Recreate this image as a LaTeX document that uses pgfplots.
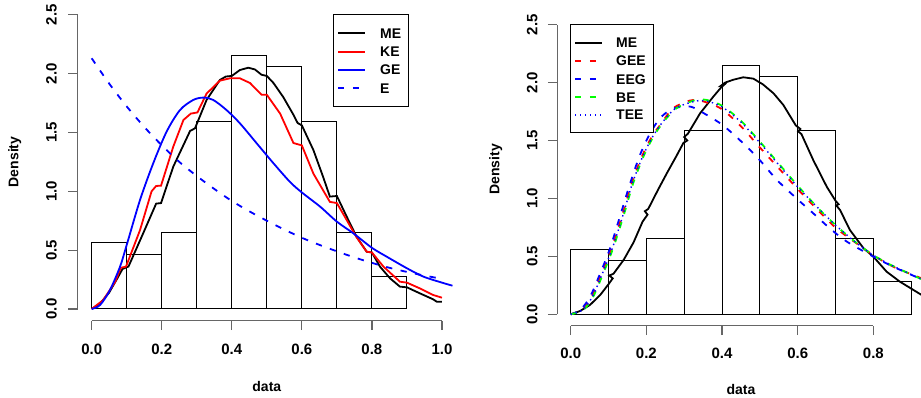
\documentclass[border=0pt]{standalone}
\usepackage{pgfplots}
\pgfplotsset{compat=1.18}
\usepackage{fontspec}
\setmainfont{Liberation Sans}
\newcommand\lblfont{\bfseries\fontsize{14}{16}\selectfont}
\newcommand\tckfont{\bfseries\fontsize{15}{17}\selectfont}
\definecolor{rred}{RGB}{255,0,0}
\definecolor{rblue}{RGB}{0,0,255}
\definecolor{rgreen}{RGB}{0,255,0}
\tikzset{
  cv/.style={line width=1.8pt},
  dsh/.style={dash pattern=on 6.3pt off 8.5pt},
  dtt/.style={line width=1.4pt, dash pattern=on 1.4pt off 3.6pt},
  lgtxt/.style={anchor=base west, inner sep=0pt, font=\lblfont},
}
\pgfplotsset{
  rstyle/.style={
    scale only axis, anchor=south west,
    axis lines*=left, axis line style={draw=none},
    tick align=outside, major tick length=9.3pt,
    tick style={black!60, line width=1.2pt},
    ymin=-0.1, ymax=2.6,
    ytick={0,0.5,1,1.5,2,2.5}, yticklabels={0.0,0.5,1.0,1.5,2.0,2.5},
    tick label style={font=\tckfont},
    clip mode=individual,
    xlabel={data}, ylabel={Density},
  },
  hist/.style={forget plot, sharp plot, draw=black, line width=1pt, no marks},
}
\begin{document}
\begin{tikzpicture}[x=1pt,y=1pt]
\useasboundingbox (0,0) rectangle (921,398);
% ---------------- left panel ----------------
\begin{axis}[rstyle,
  at={(77.67pt,77.23pt)}, width=378.3pt, height=317.8pt,
  xmin=-0.04, xmax=1.04,
  xtick={0,0.2,0.4,0.6,0.8,1}, xticklabels={0.0,0.2,0.4,0.6,0.8,1.0},
  yticklabel style={xshift=-11.7pt, rotate=90, anchor=base, inner sep=0pt},
  xticklabel style={anchor=base, inner sep=0pt, yshift=-24.9pt},
  every axis x label/.style={at={(rel axis cs:0.5,0)}, anchor=base, yshift=-70.9pt, font=\lblfont},
  every axis y label/.style={at={(rel axis cs:0,0.5)}, xshift=-59.3pt, rotate=90, anchor=base, font=\lblfont},
]
\addplot[hist] coordinates {(0,0)(0,0.561)(0.1,0.561)(0.1,0)(0.1,0.467)(0.2,0.467)(0.2,0)(0.2,0.654)(0.3,0.654)(0.3,0)(0.3,1.589)(0.4,1.589)(0.4,0)(0.4,2.150)(0.5,2.150)(0.5,0)(0.5,2.056)(0.6,2.056)(0.6,0)(0.6,1.589)(0.7,1.589)(0.7,0)(0.7,0.654)(0.8,0.654)(0.8,0)(0.8,0.280)(0.9,0.280)(0.9,0)(0,0)};
\addplot[cv, black, no marks] coordinates {(0,0)(0.025,0.05)(0.05,0.14)(0.075,0.27)(0.088,0.34)(0.1,0.355)(0.105,0.36)(0.147,0.643)(0.184,0.895)(0.198,0.9)(0.233,1.21)(0.281,1.513)(0.295,1.535)(0.328,1.776)(0.366,1.946)(0.383,1.975)(0.4,1.98)(0.423,2.03)(0.447,2.05)(0.466,2.035)(0.485,1.99)(0.5,1.98)(0.519,1.92)(0.547,1.80)(0.576,1.65)(0.588,1.58)(0.6,1.56)(0.633,1.35)(0.661,1.12)(0.68,0.955)(0.7,0.96)(0.728,0.785)(0.756,0.615)(0.785,0.487)(0.8,0.48)(0.823,0.36)(0.852,0.26)(0.88,0.19)(0.9,0.184)(0.937,0.133)(0.975,0.082)(0.985,0.062)(1.0,0.062)};
\addplot[cv, rred, no marks] coordinates {(0,0)(0.033,0.076)(0.067,0.23)(0.083,0.35)(0.098,0.36)(0.138,0.67)(0.171,1.0)(0.184,1.045)(0.198,1.048)(0.233,1.38)(0.262,1.606)(0.283,1.66)(0.302,1.67)(0.328,1.83)(0.366,1.94)(0.395,1.96)(0.423,1.96)(0.452,1.92)(0.485,1.82)(0.5,1.82)(0.538,1.66)(0.576,1.41)(0.6,1.39)(0.633,1.15)(0.68,0.91)(0.7,0.90)(0.728,0.756)(0.756,0.61)(0.785,0.487)(0.8,0.48)(0.833,0.36)(0.88,0.232)(0.9,0.224)(0.937,0.175)(0.975,0.119)(1.0,0.096)};
\addplot[cv, rblue, smooth, no marks] coordinates {(0,0)(0.024,0.034)(0.052,0.16)(0.081,0.36)(0.1,0.544)(0.138,0.926)(0.176,1.24)(0.214,1.507)(0.252,1.69)(0.29,1.776)(0.319,1.796)(0.347,1.776)(0.385,1.69)(0.423,1.578)(0.471,1.408)(0.519,1.238)(0.566,1.08)(0.6,0.99)(0.652,0.87)(0.7,0.742)(0.747,0.643)(0.8,0.52)(0.842,0.445)(0.9,0.346)(0.947,0.275)(1.0,0.224)(1.03,0.198)};
\addplot[cv, rblue, smooth, dsh, no marks] coordinates {(0,2.13)(0.05,1.915)(0.1,1.721)(0.15,1.547)(0.2,1.391)(0.25,1.25)(0.3,1.13)(0.35,1.02)(0.4,0.918)(0.45,0.83)(0.5,0.75)(0.55,0.675)(0.6,0.605)(0.65,0.545)(0.7,0.49)(0.75,0.438)(0.8,0.392)(0.85,0.35)(0.9,0.315)(0.95,0.284)(1.0,0.256)};
\draw[black!60, line width=1.2pt] (axis cs:0,-0.1) -- (axis cs:1,-0.1);
\draw[black!60, line width=1.2pt] (axis cs:-0.04,0) -- (axis cs:-0.04,2.5);
\end{axis}
% ---------------- right panel ----------------
\begin{axis}[rstyle,
  at={(557.1pt,72.1pt)}, width=367.7pt, height=312.8pt,
  xmin=-0.036, xmax=0.936,
  xtick={0,0.2,0.4,0.6,0.8}, xticklabels={0.0,0.2,0.4,0.6,0.8},
  yticklabel style={xshift=-10.5pt, rotate=90, anchor=base, inner sep=0pt},
  xticklabel style={anchor=base, inner sep=0pt, yshift=-23.8pt},
  every axis x label/.style={at={(rel axis cs:0.5,0)}, anchor=base, yshift=-69.1pt, font=\lblfont},
  every axis y label/.style={at={(rel axis cs:0,0.5)}, xshift=-57.7pt, rotate=90, anchor=base, font=\lblfont},
]
\addplot[hist] coordinates {(0,0)(0,0.561)(0.1,0.561)(0.1,0)(0.1,0.467)(0.2,0.467)(0.2,0)(0.2,0.654)(0.3,0.654)(0.3,0)(0.3,1.589)(0.4,1.589)(0.4,0)(0.4,2.150)(0.5,2.150)(0.5,0)(0.5,2.056)(0.6,2.056)(0.6,0)(0.6,1.589)(0.7,1.589)(0.7,0)(0.7,0.654)(0.8,0.654)(0.8,0)(0.8,0.280)(0.9,0.280)(0.9,0)(0,0)};
\addplot[cv, black, no marks] coordinates {(0,0)(0.025,0.029)(0.051,0.081)(0.078,0.167)(0.1,0.26)(0.111,0.31)(0.102,0.335)(0.113,0.35)(0.14,0.47)(0.166,0.62)(0.19,0.80)(0.203,0.86)(0.196,0.89)(0.205,0.91)(0.23,1.07)(0.254,1.217)(0.28,1.37)(0.298,1.48)(0.308,1.5)(0.3,1.53)(0.31,1.56)(0.342,1.735)(0.377,1.879)(0.398,1.96)(0.405,1.98)(0.398,1.975)(0.408,2.0)(0.43,2.025)(0.456,2.046)(0.483,2.034)(0.5,2.0)(0.495,2.01)(0.508,1.985)(0.536,1.908)(0.562,1.807)(0.595,1.63)(0.607,1.6)(0.601,1.58)(0.61,1.555)(0.641,1.332)(0.677,1.10)(0.7,0.98)(0.708,0.95)(0.702,0.94)(0.712,0.9)(0.738,0.728)(0.774,0.57)(0.8,0.498)(0.835,0.368)(0.87,0.282)(0.906,0.21)(0.936,0.15)};
\addplot[cv, rred, smooth, dsh, no marks] coordinates {(0,0)(0.029,0.037)(0.055,0.15)(0.082,0.354)(0.108,0.57)(0.135,0.843)(0.161,1.13)(0.188,1.36)(0.214,1.53)(0.24,1.65)(0.271,1.78)(0.315,1.845)(0.342,1.845)(0.395,1.78)(0.448,1.63)(0.5,1.44)(0.553,1.25)(0.606,1.06)(0.659,0.88)(0.703,0.74)(0.765,0.59)(0.8,0.51)(0.853,0.41)(0.936,0.30)};
\addplot[cv, rblue, smooth, dsh, no marks] coordinates {(0,0)(0.025,0.037)(0.051,0.15)(0.078,0.354)(0.104,0.57)(0.13,0.843)(0.157,1.13)(0.183,1.375)(0.21,1.563)(0.236,1.692)(0.263,1.764)(0.29,1.79)(0.32,1.79)(0.36,1.72)(0.403,1.63)(0.456,1.476)(0.5,1.33)(0.545,1.16)(0.597,1.0)(0.641,0.872)(0.685,0.742)(0.73,0.627)(0.8,0.498)(0.853,0.41)(0.936,0.29)};
\addplot[cv, rgreen, smooth, dsh, no marks] coordinates {(0,0)(0.033,0.037)(0.059,0.15)(0.086,0.354)(0.112,0.57)(0.139,0.843)(0.165,1.13)(0.192,1.36)(0.218,1.53)(0.245,1.66)(0.28,1.78)(0.33,1.85)(0.36,1.85)(0.4,1.80)(0.45,1.67)(0.5,1.49)(0.55,1.30)(0.6,1.11)(0.65,0.93)(0.7,0.77)(0.75,0.63)(0.8,0.51)(0.85,0.42)(0.936,0.29)};
\addplot[rblue, smooth, dtt, no marks] coordinates {(0,0)(0.031,0.037)(0.057,0.15)(0.084,0.354)(0.11,0.57)(0.137,0.843)(0.163,1.13)(0.19,1.36)(0.216,1.53)(0.243,1.66)(0.278,1.78)(0.33,1.84)(0.36,1.84)(0.4,1.79)(0.45,1.66)(0.5,1.48)(0.55,1.29)(0.6,1.10)(0.65,0.93)(0.7,0.77)(0.75,0.63)(0.8,0.51)(0.85,0.42)(0.936,0.29)};
\draw[black!60, line width=1.2pt] (axis cs:0,-0.1) -- (axis cs:0.8,-0.1);
\draw[black!60, line width=1.2pt] (axis cs:-0.036,0) -- (axis cs:-0.036,2.5);
\end{axis}
% ---------------- legends ----------------
\draw[black, line width=0.9pt, fill=white] (333.3,383.7) rectangle (408.3,292);
\draw[cv, black] (338,364.7) -- (365,364.7);
\draw[cv, rred]  (338,346.3) -- (365,346.3);
\draw[cv, rblue] (338,328) -- (365,328);
\draw[cv, rblue, dsh] (338,309.7) -- (365,309.7);
\node[lgtxt] at (380,359.7) {ME};
\node[lgtxt] at (380,341.3) {KE};
\node[lgtxt] at (380,323) {GE};
\node[lgtxt] at (380,304.7) {E};
\draw[black, line width=0.9pt, fill=white] (570.7,373.7) rectangle (653.3,265.7);
\draw[cv, black] (575,355.3) -- (601.7,355.3);
\draw[cv, rred, dsh] (575,337) -- (601.7,337);
\draw[cv, rblue, dsh] (575,318.7) -- (601.7,318.7);
\draw[cv, rgreen, dsh] (575,300.7) -- (601.7,300.7);
\draw[rblue, dtt] (575,283) -- (601.7,283);
\node[lgtxt] at (616,350.3) {ME};
\node[lgtxt] at (616,332) {GEE};
\node[lgtxt] at (616,313.7) {EEG};
\node[lgtxt] at (616,295.7) {BE};
\node[lgtxt] at (616,278) {TEE};
\end{tikzpicture}
\end{document}
